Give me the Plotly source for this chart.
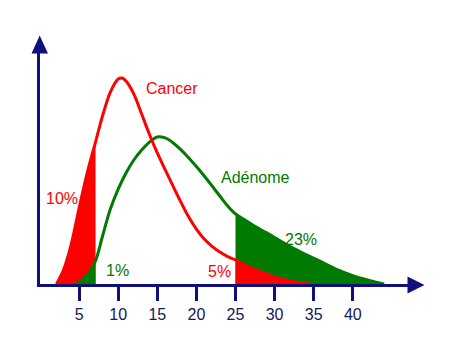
import plotly.graph_objects as go

# ---- data (y: relative frequency, cancer peak = 100) ----
cancer_x = [2.1, 3.0, 4.0, 5.0, 6.0, 7.1, 8.0, 9.0, 10.0, 10.5, 11.0, 12.0, 13.0, 14.0,
            15.0, 16.0, 17.0, 18.0, 19.0, 20.0, 21.0, 22.0, 23.0, 24.0, 25.0, 26.5,
            28.0, 30.0, 32.0, 34.5]
cancer_y = [0, 6.8, 19.4, 36.9, 53.4, 68.9, 81.6, 93.2, 99.5, 100, 98.5, 92.2, 82.5, 72.6,
            63.6, 55.5, 47.6, 39.9, 32.6, 26.6, 21.8, 18.3, 15.5, 13.3, 11.7, 8.7,
            6.3, 3.4, 1.5, 0]

adenome_x = [4.6, 5.5, 6.5, 7.1, 8.0, 9.0, 10.0, 11.0, 12.0, 13.0, 14.0, 15.0, 16.0,
             17.0, 18.0, 19.0, 20.0, 21.0, 22.0, 23.0, 24.0, 25.0, 26.0, 27.0, 28.0,
             29.0, 30.0, 32.0, 34.0, 36.0, 38.0, 40.0, 42.0, 44.0]
adenome_y = [0, 2.4, 6.8, 11.2, 23.3, 36.4, 46.1, 53.9, 60.2, 65.0, 68.9, 71.4, 70.9,
             68.6, 65.2, 61.3, 57.0, 52.4, 47.6, 42.7, 37.9, 34.0, 31.5, 29.1, 26.9,
             24.8, 22.6, 18.2, 14.3, 10.7, 7.0, 4.1, 1.9, 0]

left_cut = 7.1
right_cut = 25.0

tick_vals = [5, 10, 15, 20, 25, 30, 35, 40]
tick_text = ["5", "10", "15", "20", "25", "30", "35", "40"]

labels = ["Cancer", "Adénome", "10%", "1%", "5%", "23%"]
label_x = [16.9, 27.6, 2.75, 9.95, 22.9, 33.4]
label_y = [95.1, 51.5, 41.7, 6.6, 6.0, 21.4]
label_series = ["cancer", "adenome", "cancer", "adenome", "cancer", "adenome"]

# ---- styling ----
RED = "#ff0000"
GREEN = "#007a00"
NAVY = "#10107c"
TICK_FONT = "#16165a"
FONT = "Arial, 'Liberation Sans', sans-serif"

W, H = 464, 350
ML, MR, MT, MB = 40, 56, 53, 66
PW, PH = W - ML - MR, H - MT - MB
X_PX = 7.82   # pixels per x unit
Y_PX = 2.06   # pixels per y unit


def sub(xs, ys, cond):
    px, py = [], []
    for a, b in zip(xs, ys):
        if cond(a):
            px.append(a)
            py.append(b)
    return px, py


fig = go.Figure()

# left tails
cx, cy = sub(cancer_x, cancer_y, lambda v: v <= left_cut)
fig.add_trace(go.Scatter(x=cx, y=cy, mode="lines", line=dict(width=0, shape="spline", color=RED),
                         fill="tozeroy", fillcolor=RED, hoverinfo="skip", showlegend=False))
ax_, ay_ = sub(adenome_x, adenome_y, lambda v: v <= left_cut)
fig.add_trace(go.Scatter(x=ax_, y=ay_, mode="lines", line=dict(width=0, shape="spline", color=GREEN),
                         fill="tozeroy", fillcolor=GREEN, hoverinfo="skip", showlegend=False))
# right tails
ax_, ay_ = sub(adenome_x, adenome_y, lambda v: v >= right_cut)
fig.add_trace(go.Scatter(x=ax_, y=ay_, mode="lines", line=dict(width=0, shape="spline", color=GREEN),
                         fill="tozeroy", fillcolor=GREEN, hoverinfo="skip", showlegend=False))
cx, cy = sub(cancer_x, cancer_y, lambda v: v >= right_cut)
fig.add_trace(go.Scatter(x=cx, y=cy, mode="lines", line=dict(width=0, shape="spline", color=RED),
                         fill="tozeroy", fillcolor=RED, hoverinfo="skip", showlegend=False))

# curves
fig.add_trace(go.Scatter(x=adenome_x, y=adenome_y, mode="lines", name="Adénome",
                         line=dict(color=GREEN, width=3, shape="spline", smoothing=1),
                         showlegend=False))
fig.add_trace(go.Scatter(x=cancer_x, y=cancer_y, mode="lines", name="Cancer",
                         line=dict(color=RED, width=3, shape="spline", smoothing=1),
                         showlegend=False))

# text labels
for t, lx, ly, s in zip(labels, label_x, label_y, label_series):
    fig.add_annotation(x=lx, y=ly, text=t, showarrow=False, xanchor="center", yanchor="middle",
                       font=dict(family=FONT, size=16, color=RED if s == "cancer" else GREEN))


def paper(px, py):
    return (px - ML) / PW, (H - MB - py) / PH


def tri(points):
    pts = [paper(*p) for p in points]
    return "M " + " L ".join(f"{a:.5f},{b:.5f}" for a, b in pts) + " Z"


# arrow heads
fig.add_shape(type="path", xref="paper", yref="paper",
              path=tri([(39.7, 35.5), (31.5, 53.5), (48.0, 53.5)]),
              fillcolor=NAVY, line=dict(width=0))
fig.add_shape(type="path", xref="paper", yref="paper",
              path=tri([(424.5, 285.0), (407.5, 276.5), (407.5, 293.5)]),
              fillcolor=NAVY, line=dict(width=0))

fig.update_layout(
    width=W, height=H,
    margin=dict(l=ML, r=MR, t=MT, b=MB, pad=0),
    paper_bgcolor="white", plot_bgcolor="white",
    showlegend=False,
    xaxis=dict(range=[0, PW / X_PX], showgrid=False, zeroline=False,
               showline=True, linecolor=NAVY, linewidth=3,
               ticks="outside", ticklen=14, tickwidth=3, tickcolor=NAVY,
               tickvals=tick_vals, ticktext=tick_text,
               tickfont=dict(family=FONT, size=16, color=TICK_FONT),
               fixedrange=True),
    yaxis=dict(range=[0, PH / Y_PX], showgrid=False, zeroline=False,
               showline=True, linecolor=NAVY, linewidth=3,
               ticks="", showticklabels=False, fixedrange=True),
)

fig.write_html("out.html")
